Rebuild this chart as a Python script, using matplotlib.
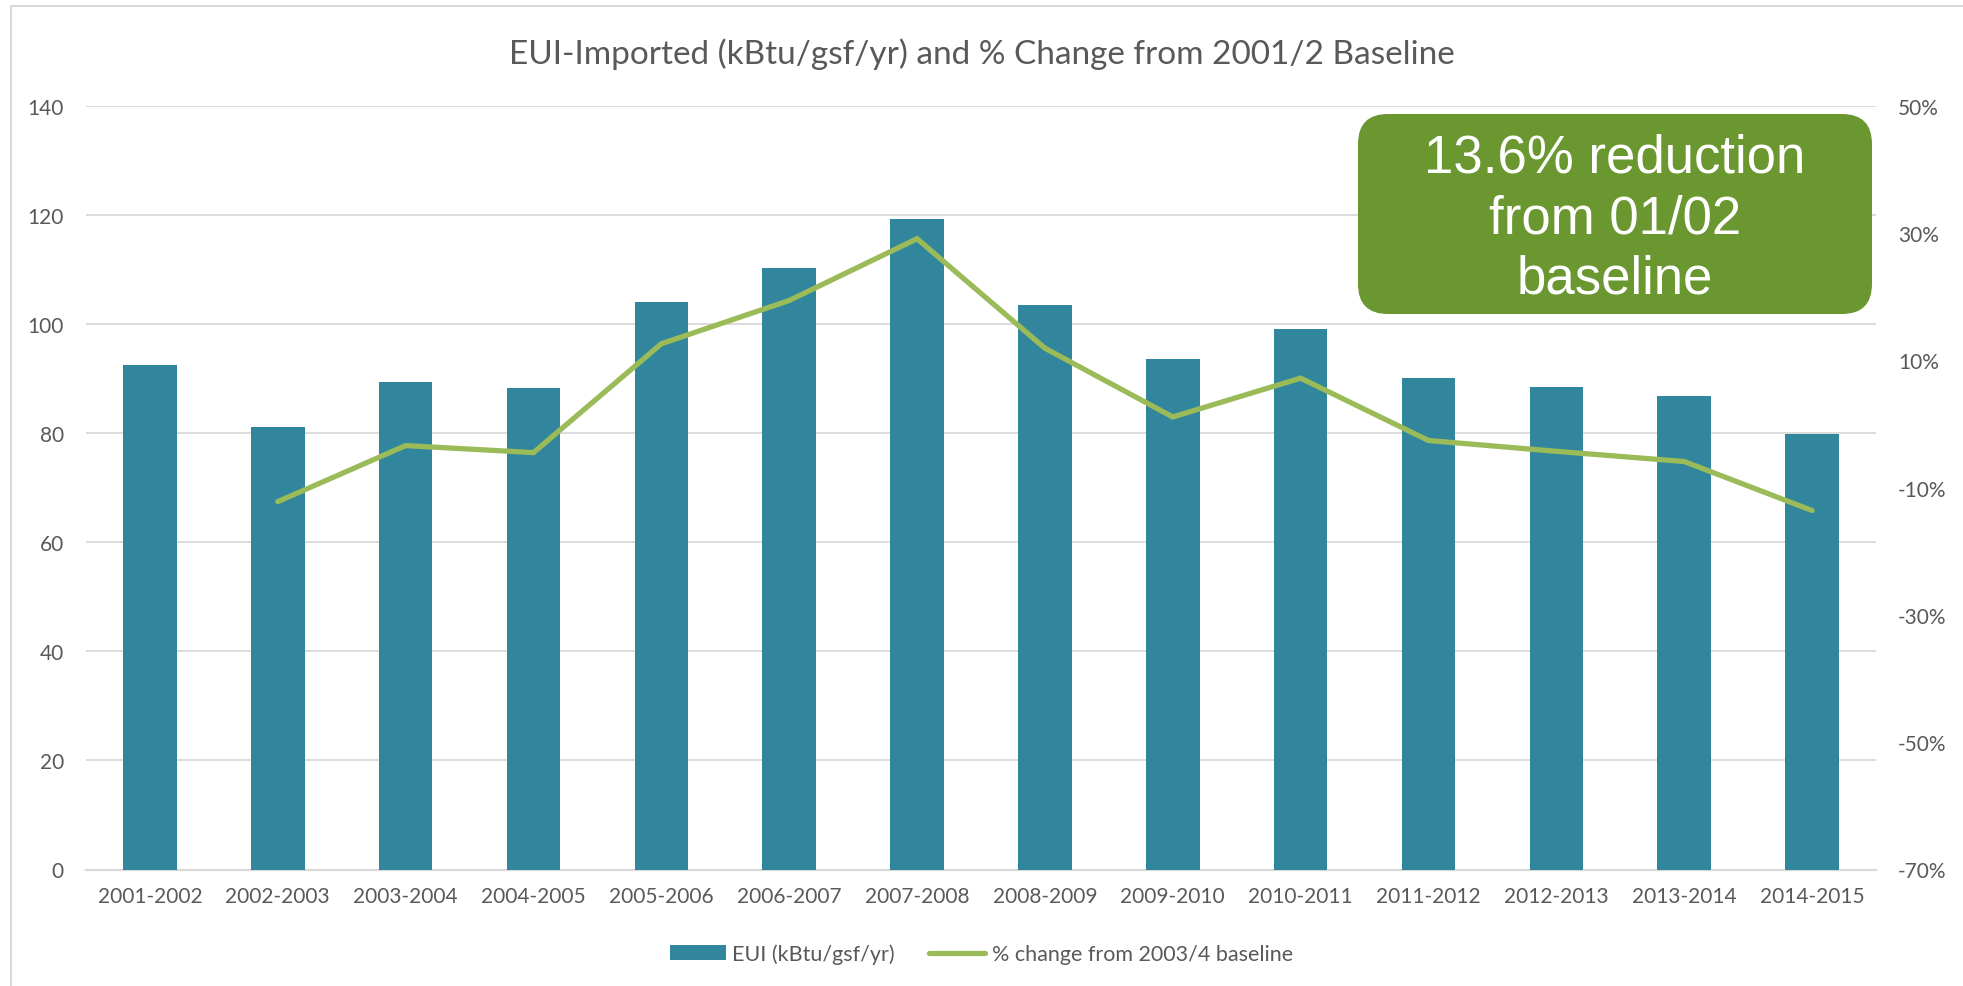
import numpy as np
import matplotlib
matplotlib.use('Agg')
import matplotlib.pyplot as plt
from matplotlib.patches import FancyBboxPatch, Rectangle
from matplotlib.ticker import FuncFormatter

plt.rcParams['font.family'] = ['Lato', 'DejaVu Sans']

years = ['2001-2002', '2002-2003', '2003-2004', '2004-2005', '2005-2006', '2006-2007', '2007-2008',
         '2008-2009', '2009-2010', '2010-2011', '2011-2012', '2012-2013', '2013-2014', '2014-2015']
eui = [92.4, 81.1, 89.3, 88.2, 104.1, 110.3, 119.2, 103.4, 93.5, 99.1, 90.0, 88.4, 86.8, 79.8]
pct_change = [np.nan, -12.2, -3.4, -4.5, 12.6, 19.4, 29.1, 11.9, 1.1, 7.2, -2.6, -4.3, -5.9, -13.6]

bar_col = '#31859C'
line_col = '#9BBB59'
txt_col = '#595959'
grid_col = '#D9D9D9'

W, H = 1963, 987
fig = plt.figure(figsize=(W/100, H/100), dpi=100)
ax = fig.add_axes([86/W, 1-870.5/H, (1876-86)/W, (870.5-106.7)/H])
x = np.arange(len(years))

ax.bar(x, eui, width=0.42, color=bar_col, zorder=3, label='EUI (kBtu/gsf/yr)')
ax.set_xlim(-0.5, len(years)-0.5)
ax.set_ylim(0, 140)
ax.set_yticks(range(0, 141, 20))
ax.set_xticks(x)
ax.set_xticklabels(years)
ax.grid(axis='y', color=grid_col, lw=1.3, zorder=0)
for s in ['top', 'left', 'right']:
    ax.spines[s].set_visible(False)
ax.spines['bottom'].set_color(grid_col)
ax.spines['bottom'].set_linewidth(1.6)
ax.tick_params(axis='both', length=0, labelsize=15, labelcolor=txt_col)
ax.tick_params(axis='y', pad=16)
ax.tick_params(axis='x', pad=12)

ax2 = ax.twinx()
ax2.plot(x, pct_change, color=line_col, lw=3.8, solid_capstyle='round', solid_joinstyle='miter',
         label='% change from 2003/4 baseline', zorder=4)
ax2.set_ylim(-70, 50)
ax2.set_yticks(range(-70, 51, 20))
ax2.yaxis.set_major_formatter(FuncFormatter(lambda v, p: '%d%%' % v))
for s in ax2.spines.values():
    s.set_visible(False)
ax2.tick_params(axis='y', length=0, labelsize=15, labelcolor=txt_col, pad=16)

fig.text(0.5, 1-54/H, 'EUI-Imported (kBtu/gsf/yr) and % Change from 2001/2 Baseline',
         ha='center', va='center', fontsize=24, color=txt_col)

# chart area border (top + left visible)
fig.patches.append(Rectangle((11/W, -0.1), 1.2, 1-7/H+0.1, transform=fig.transFigure,
                             fill=False, edgecolor=grid_col, lw=1.5))

# callout box
box = FancyBboxPatch((13.58, 6.72), 18.72-13.58, 2.0, boxstyle='round,pad=0,rounding_size=0.3',
                     transform=fig.dpi_scale_trans, facecolor='#6A972F', edgecolor='none', zorder=5)
fig.patches.append(box)
fig.text((1358+1872)/2/W, 1-219/H, '13.6% reduction\nfrom 01/02\nbaseline', ha='center', va='center',
         fontsize=38, color='white', family='Liberation Sans', linespacing=1.28, zorder=6)

h1, l1 = ax.get_legend_handles_labels()
h2, l2 = ax2.get_legend_handles_labels()
fig.legend(h1+h2, l1+l2, loc='center', bbox_to_anchor=(0.5, 1-955/H), ncol=2, frameon=False,
           fontsize=15.5, labelcolor=txt_col, handlelength=2.6, handletextpad=0.3, columnspacing=1.6)

fig.savefig('out.png', dpi=100, facecolor='white')
